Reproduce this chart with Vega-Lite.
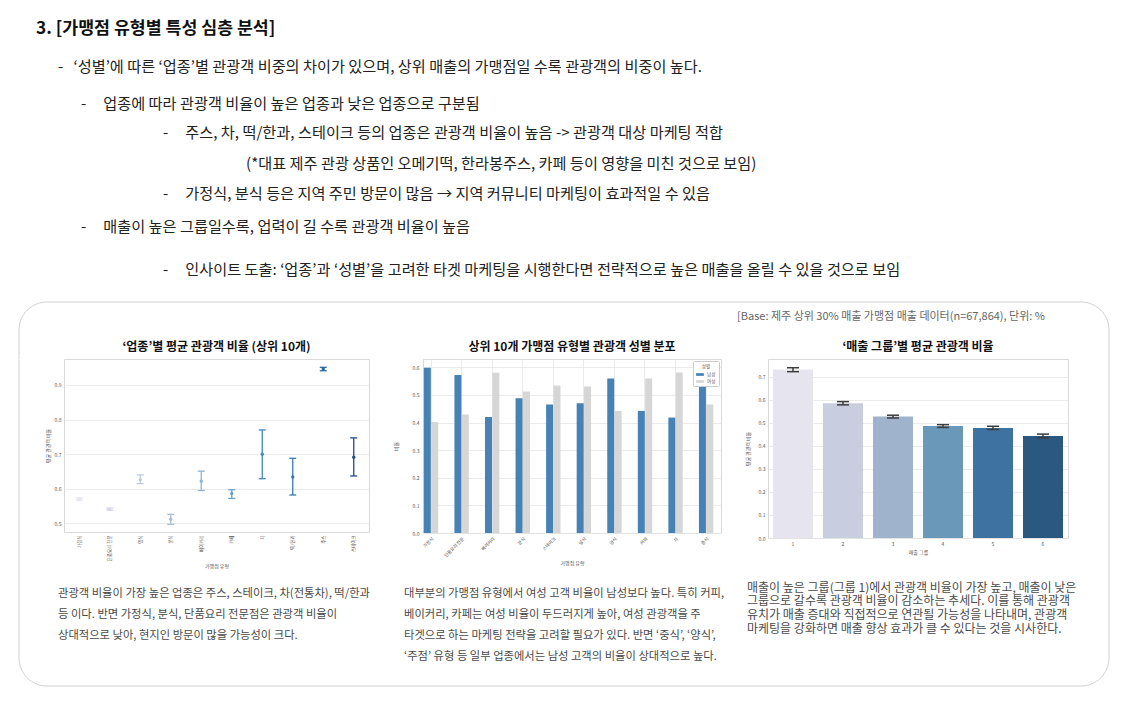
{
  "$schema": "https://vega.github.io/schema/vega-lite/v6.json",
  "background": "white",
  "padding": {"left": 18, "top": 0, "right": 0, "bottom": 0},
  "bounds": "flush",
  "spacing": 29,
  "config": {
    "font": "Noto Sans CJK KR",
    "view": {"stroke": "#d9d9d9", "strokeWidth": 1},
    "axis": {"domain": false, "ticks": false, "labelFontSize": 5, "titleFontSize": 5, "labelColor": "#555", "titleColor": "#555", "titleFontWeight": "normal", "gridColor": "#e6e6e6", "gridWidth": 0.8, "labelPadding": 3, "titlePadding": 3},
    "axisY": {"minExtent": 10, "maxExtent": 10},
    "title": {"fontSize": 12, "fontWeight": "bold", "color": "#111", "offset": 5}
  },
  "vconcat": [
    {
      "width": 1090,
      "height": 330,
      "view": {"stroke": null},
      "resolve": {"scale": {"x": "independent", "y": "independent"}},
      "layer": [
        {
          "data": {"values": [{"frame": "container"}]},
          "mark": {"type": "rect", "fill": "white", "stroke": "#d0d0d0", "strokeWidth": 1, "cornerRadius": 28},
          "encoding": {
            "y": {"datum": 0, "type": "quantitative", "scale": {"domain": [0, 1], "range": [302, 686], "nice": false, "zero": false}, "axis": null},
            "y2": {"datum": 1}
          }
        },
        {
          "data": {"values": [
            {"line": 0, "level": 0, "text": "3. [가맹점 유형별 특성 심층 분석]"},
            {"line": 1, "level": 1, "text": "-\u00a0\u00a0\u00a0‘성별’에 따른 ‘업종’별 관광객 비중의 차이가 있으며, 상위 매출의 가맹점일 수록 관광객의 비중이 높다."},
            {"line": 2, "level": 2, "text": "-\u00a0\u00a0\u00a0\u00a0\u00a0업종에 따라 관광객 비율이 높은 업종과 낮은 업종으로 구분됨"},
            {"line": 3, "level": 3, "text": "-\u00a0\u00a0\u00a0\u00a0\u00a0주스, 차, 떡/한과, 스테이크 등의 업종은 관광객 비율이 높음 -> 관광객 대상 마케팅 적합"},
            {"line": 4, "level": 4, "text": "(*대표 제주 관광 상품인 오메기떡, 한라봉주스, 카페 등이 영향을 미친 것으로 보임)"},
            {"line": 5, "level": 3, "text": "-\u00a0\u00a0\u00a0\u00a0\u00a0가정식, 분식 등은 지역 주민 방문이 많음 → 지역 커뮤니티 마케팅이 효과적일 수 있음"},
            {"line": 6, "level": 2, "text": "-\u00a0\u00a0\u00a0\u00a0\u00a0매출이 높은 그룹일수록, 업력이 길 수록 관광객 비율이 높음"},
            {"line": 7, "level": 3, "text": "-\u00a0\u00a0\u00a0\u00a0\u00a0인사이트 도출: ‘업종’과 ‘성별’을 고려한 타겟 마케팅을 시행한다면 전략적으로 높은 매출을 올릴 수 있을 것으로 보임"}
          ]},
          "encoding": {
            "x": {"field": "level", "type": "quantitative", "scale": {"domain": [0, 1, 2, 3, 4], "range": [17, 39, 62, 144, 227], "nice": false, "zero": false}, "axis": null},
            "y": {"field": "line", "type": "quantitative", "scale": {"domain": [0, 1, 2, 3, 4, 5, 6, 7], "range": [29, 67, 104, 133, 164, 194, 227, 270], "nice": false, "zero": false}, "axis": null},
            "text": {"field": "text", "type": "nominal"}
          },
          "layer": [
            {"transform": [{"filter": "datum.line == 0"}], "mark": {"type": "text", "align": "left", "baseline": "middle", "fontSize": 17.3, "fontWeight": 600, "color": "#111"}},
            {"transform": [{"filter": "datum.line > 0"}], "mark": {"type": "text", "align": "left", "baseline": "middle", "fontSize": 15.2, "color": "#222"}}
          ]
        },
        {
          "data": {"values": [
            {"slot": 1, "text": "관광객 비율이 가장 높은 업종은 주스, 스테이크, 차(전통차), 떡/한과\n등 이다. 반면 가정식, 분식, 단품요리 전문점은 관광객 비율이\n상대적으로 낮아, 현지인 방문이 많을 가능성이 크다."},
            {"slot": 2, "text": "대부분의 가맹점 유형에서 여성 고객 비율이 남성보다 높다. 특히 커피,\n베이커리, 카페는 여성 비율이 두드러지게 높아, 여성 관광객을 주\n타겟으로 하는 마케팅 전략을 고려할 필요가 있다. 반면 ‘중식’, ‘양식’,\n‘주점’ 유형 등 일부 업종에서는 남성 고객의 비율이 상대적으로 높다."},
            {"slot": 3, "text": "매출이 높은 그룹(그룹 1)에서 관광객 비율이 가장 높고, 매출이 낮은\n그룹으로 갈수록 관광객 비율이 감소하는 추세다. 이를 통해 관광객\n유치가 매출 증대와 직접적으로 연관될 가능성을 나타내며, 관광객\n마케팅을 강화하면 매출 향상 효과가 클 수 있다는 것을 시사한다."},
            {"slot": 4, "text": "[Base: 제주 상위 30% 매출 가맹점 매출 데이터(n=67,864), 단위: %"}
          ]},
          "encoding": {
            "x": {"field": "slot", "type": "quantitative", "scale": {"domain": [1, 2, 3, 4], "range": [39, 385, 728, 1026], "nice": false, "zero": false}, "axis": null},
            "y": {"field": "slot", "type": "quantitative", "scale": {"domain": [1, 2, 3, 4], "range": [588, 588, 582.5, 317], "nice": false, "zero": false}, "axis": null},
            "text": {"field": "text", "type": "nominal"}
          },
          "layer": [
            {"transform": [{"filter": "datum.slot <= 2"}], "mark": {"type": "text", "align": "left", "baseline": "top", "lineBreak": "\n", "lineHeight": 21, "fontSize": 11.3, "color": "#4a4a4a"}},
            {"transform": [{"filter": "datum.slot == 3"}], "mark": {"type": "text", "align": "left", "baseline": "top", "lineBreak": "\n", "lineHeight": 13.7, "fontSize": 12, "color": "#4a4a4a"}},
            {"transform": [{"filter": "datum.slot == 4"}], "mark": {"type": "text", "align": "right", "baseline": "middle", "fontSize": 11, "color": "#666"}}
          ]
        }
      ]
    },
    {
      "spacing": 22,
      "resolve": {"scale": {"color": "independent"}, "legend": {"color": "independent"}},
      "hconcat": [
        {"width": 3, "height": 1, "view": {"stroke": null, "fill": "white"}, "data": {"values": []}, "mark": "text"},
        {
          "width": 305,
          "height": 173,
          "title": {"text": "‘업종’별 평균 관광객 비율 (상위 10개)"},
          "data": {"values": [
            {"type": "가정식", "mean": 0.570, "lo": 0.567, "hi": 0.573},
            {"type": "단품요리 전문", "mean": 0.541, "lo": 0.538, "hi": 0.544},
            {"type": "양식", "mean": 0.627, "lo": 0.615, "hi": 0.640},
            {"type": "분식", "mean": 0.512, "lo": 0.497, "hi": 0.526},
            {"type": "베이커리", "mean": 0.622, "lo": 0.595, "hi": 0.651},
            {"type": "카페", "mean": 0.586, "lo": 0.572, "hi": 0.597},
            {"type": "차", "mean": 0.700, "lo": 0.629, "hi": 0.770},
            {"type": "떡/한과", "mean": 0.634, "lo": 0.582, "hi": 0.688},
            {"type": "주스", "mean": 0.946, "lo": 0.941, "hi": 0.951},
            {"type": "스테이크", "mean": 0.691, "lo": 0.637, "hi": 0.747}
          ]},
          "encoding": {
            "x": {"field": "type", "type": "nominal", "sort": null, "scale": {"type": "point", "padding": 0.5}, "axis": {"labelAngle": 270, "labelFontSize": 4.5, "title": "가맹점 유형", "grid": false}},
            "color": {"field": "type", "type": "nominal", "sort": null, "scale": {"domain": ["가정식", "단품요리 전문", "양식", "분식", "베이커리", "카페", "차", "떡/한과", "주스", "스테이크"], "range": ["#e7e3ef", "#d4d5e8", "#bfcbe3", "#a7bddb", "#8eb1d5", "#6ba0cc", "#3f88c1", "#3879b5", "#2c6aa6", "#1f4e84"]}, "legend": null}
          },
          "layer": [
            {"mark": {"type": "rule", "strokeWidth": 1.3}, "encoding": {"y": {"field": "lo", "type": "quantitative", "title": "평균 관광객 비율", "scale": {"domain": [0.475, 0.975], "nice": false, "zero": false}, "axis": {"values": [0.5, 0.6, 0.7, 0.8, 0.9], "format": ".1f", "titlePadding": 4}}, "y2": {"field": "hi"}}},
            {"mark": {"type": "tick", "size": 7, "thickness": 1.3, "opacity": 1}, "encoding": {"y": {"field": "lo", "type": "quantitative", "title": "평균 관광객 비율", "axis": {"values": [0.5, 0.6, 0.7, 0.8, 0.9], "format": ".1f", "titlePadding": 4}}}},
            {"mark": {"type": "tick", "size": 7, "thickness": 1.3, "opacity": 1}, "encoding": {"y": {"field": "hi", "type": "quantitative", "title": "평균 관광객 비율", "axis": {"values": [0.5, 0.6, 0.7, 0.8, 0.9], "format": ".1f", "titlePadding": 4}}}},
            {"mark": {"type": "point", "filled": true, "size": 12, "opacity": 1}, "encoding": {"y": {"field": "mean", "type": "quantitative", "title": "평균 관광객 비율", "axis": {"values": [0.5, 0.6, 0.7, 0.8, 0.9], "format": ".1f", "titlePadding": 4}}}}
          ]
        },
        {
          "width": 298,
          "height": 174,
          "title": {"text": "상위 10개 가맹점 유형별 관광객 성별 분포"},
          "data": {"values": [
            {"type": "가정식", "gender": "남성", "ratio": 0.598},
            {"type": "가정식", "gender": "여성", "ratio": 0.402},
            {"type": "단품요리 전문", "gender": "남성", "ratio": 0.572},
            {"type": "단품요리 전문", "gender": "여성", "ratio": 0.429},
            {"type": "베이커리", "gender": "남성", "ratio": 0.420},
            {"type": "베이커리", "gender": "여성", "ratio": 0.580},
            {"type": "분식", "gender": "남성", "ratio": 0.488},
            {"type": "분식", "gender": "여성", "ratio": 0.512},
            {"type": "스테이크", "gender": "남성", "ratio": 0.465},
            {"type": "스테이크", "gender": "여성", "ratio": 0.534},
            {"type": "일식", "gender": "남성", "ratio": 0.470},
            {"type": "일식", "gender": "여성", "ratio": 0.530},
            {"type": "양식", "gender": "남성", "ratio": 0.559},
            {"type": "양식", "gender": "여성", "ratio": 0.442},
            {"type": "커피", "gender": "남성", "ratio": 0.442},
            {"type": "커피", "gender": "여성", "ratio": 0.559},
            {"type": "차", "gender": "남성", "ratio": 0.418},
            {"type": "차", "gender": "여성", "ratio": 0.581},
            {"type": "중식", "gender": "남성", "ratio": 0.534},
            {"type": "중식", "gender": "여성", "ratio": 0.465}
          ]},
          "mark": {"type": "bar"},
          "encoding": {
            "x": {"field": "type", "type": "nominal", "sort": null, "scale": {"paddingInner": 0.53, "paddingOuter": 0.14, "align": 0.1}, "axis": {"labelAngle": -45, "labelFontSize": 4.5, "title": "가맹점 유형", "grid": true, "bandPosition": 0.5}},
            "xOffset": {"field": "gender", "type": "nominal", "sort": ["남성", "여성"], "scale": {"paddingInner": 0.05}},
            "y": {"field": "ratio", "type": "quantitative", "title": "비율", "scale": {"domain": [0, 0.63], "nice": false}, "axis": {"values": [0, 0.1, 0.2, 0.3, 0.4, 0.5, 0.6], "format": ".1f", "titlePadding": 15, "labelPadding": 4}},
            "color": {"field": "gender", "type": "nominal", "sort": ["남성", "여성"], "scale": {"domain": ["남성", "여성"], "range": ["#4682b4", "#d6d6d6"]}, "legend": {"title": "성별", "orient": "top-right", "offset": 2, "fillColor": "white", "strokeColor": "#cccccc", "padding": 3, "cornerRadius": 1, "titleFontSize": 4.5, "labelFontSize": 4.5, "titleFontWeight": "normal", "titleColor": "#555", "labelColor": "#555", "titleAnchor": "middle", "titlePadding": 2, "rowPadding": 1, "symbolType": "M-1,-0.35H1V0.35H-1Z", "symbolSize": 60, "symbolStrokeWidth": 0, "labelOffset": 3}}
          }
        },
        {
          "width": 300,
          "height": 179,
          "title": {"text": "‘매출 그룹’별 평균 관광객 비율"},
          "data": {"values": [
            {"group": "1", "mean": 0.731, "lo": 0.722, "hi": 0.739},
            {"group": "2", "mean": 0.585, "lo": 0.578, "hi": 0.592},
            {"group": "3", "mean": 0.527, "lo": 0.521, "hi": 0.533},
            {"group": "4", "mean": 0.486, "lo": 0.480, "hi": 0.492},
            {"group": "5", "mean": 0.478, "lo": 0.471, "hi": 0.485},
            {"group": "6", "mean": 0.443, "lo": 0.435, "hi": 0.451}
          ]},
          "encoding": {
            "x": {"field": "group", "type": "ordinal", "scale": {"paddingInner": 0.2, "paddingOuter": 0.1}, "axis": {"labelAngle": 0, "title": "매출 그룹", "grid": false}}
          },
          "layer": [
            {"mark": {"type": "bar"}, "encoding": {"y": {"field": "mean", "type": "quantitative", "title": "평균 관광객 비율", "scale": {"domain": [0, 0.777], "nice": false}, "axis": {"values": [0, 0.1, 0.2, 0.3, 0.4, 0.5, 0.6, 0.7], "format": ".1f", "titlePadding": 8}}, "color": {"field": "group", "type": "ordinal", "scale": {"domain": ["1", "2", "3", "4", "5", "6"], "range": ["#e6e5ef", "#c8cde0", "#9fb4cc", "#6998b8", "#3e72a0", "#2a5880"]}, "legend": null}}},
            {"mark": {"type": "rule", "color": "#3d3d3d", "strokeWidth": 1.5}, "encoding": {"y": {"field": "lo", "type": "quantitative", "title": "평균 관광객 비율", "axis": {"values": [0, 0.1, 0.2, 0.3, 0.4, 0.5, 0.6, 0.7], "format": ".1f", "titlePadding": 8}}, "y2": {"field": "hi"}}},
            {"mark": {"type": "tick", "color": "#3d3d3d", "size": 12, "thickness": 1.5, "opacity": 1}, "encoding": {"y": {"field": "lo", "type": "quantitative", "title": "평균 관광객 비율", "axis": {"values": [0, 0.1, 0.2, 0.3, 0.4, 0.5, 0.6, 0.7], "format": ".1f", "titlePadding": 8}}}},
            {"mark": {"type": "tick", "color": "#3d3d3d", "size": 12, "thickness": 1.5, "opacity": 1}, "encoding": {"y": {"field": "hi", "type": "quantitative", "title": "평균 관광객 비율", "axis": {"values": [0, 0.1, 0.2, 0.3, 0.4, 0.5, 0.6, 0.7], "format": ".1f", "titlePadding": 8}}}}
          ]
        }
      ]
    }
  ]
}
